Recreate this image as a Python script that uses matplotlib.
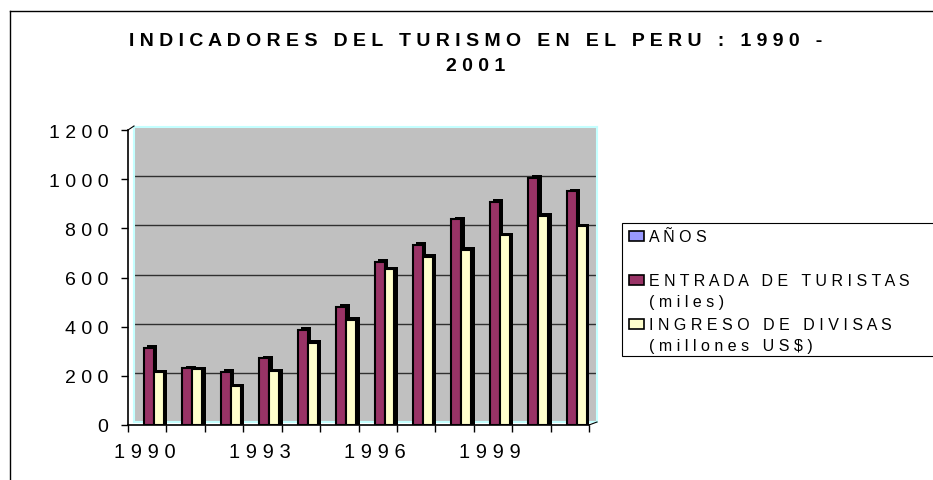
import matplotlib
matplotlib.use('Agg')
import matplotlib.pyplot as plt
import matplotlib.patches as patches
from matplotlib.lines import Line2D

plt.rcParams['font.family'] = 'Liberation Sans'

# data
years = [1990, 1991, 1992, 1993, 1994, 1995, 1996, 1997, 1998, 1999, 2000, 2001]
turistas = [314, 232, 216, 272, 387, 481, 664, 733, 838, 909, 1005, 952]
divisas = [214, 226, 157, 218, 334, 428, 634, 684, 713, 773, 852, 809]
yticks = [0, 200, 400, 600, 800, 1000, 1200]
year_labels = [1990, 1993, 1996, 1999]
title = 'INDICADORES DEL TURISMO EN EL PERU : 1990 -\n2001'
leg_labels = ['AÑOS', 'ENTRADA DE TURISTAS\n(miles)', 'INGRESO DE DIVISAS\n(millones US$)']

c_anos = '#9999FF'
c_tur = '#993366'
c_div = '#FFFFCC'
c_wall = '#C0C0C0'
c_edge = '#C4FFFF'

W, H = 933, 481


def sp(s):
    # the old excel chart draws every label with wide letter spacing
    return '\n'.join(' '.join(line) for line in s.split('\n'))


def fx(px):
    return px / W


def fy(py):
    return (H - py) / H


fig = plt.figure(figsize=(W / 100, H / 100), dpi=100)

# back wall, shifted a bit up/right for the 3d look
ax_bg = fig.add_axes([fx(134), fy(423), fx(461) + 2 / W, 295 / H])
ax_bg.set_facecolor(c_wall)
ax_bg.set_ylim(0, 1200)
ax_bg.set_xlim(0, 12)
for y in yticks[1:-1]:
    ax_bg.axhline(y, color='#303030', lw=1.0)
for s in ax_bg.spines.values():
    s.set_color(c_edge)
    s.set_linewidth(1.5)
ax_bg.set_xticks([])
ax_bg.set_yticks([])

ax = fig.add_axes([fx(128), fy(426), fx(461), 295 / H])
ax.set_facecolor('none')
ax.set_xlim(0, 12)
ax.set_ylim(0, 1200)

x = list(range(len(years)))
bw = 0.26
dx = 0.09
dy = 10
x_tur = [i + 0.417 for i in x]
x_div = [i + 0.677 for i in x]
ax.bar([v + dx for v in x_tur], [h + dy for h in turistas], width=bw, align='edge',
       color='black', zorder=2)
ax.bar(x_tur, turistas, width=bw, align='edge', color=c_tur, edgecolor='black',
       linewidth=1.5, zorder=3)
ax.bar([v + dx for v in x_div], [h + dy for h in divisas], width=bw, align='edge',
       color='black', zorder=4)
ax.bar(x_div, divisas, width=bw, align='edge', color=c_div, edgecolor='black',
       linewidth=1.5, zorder=5)

ax.spines['top'].set_visible(False)
ax.spines['right'].set_visible(False)
ax.spines['left'].set_linewidth(1.2)
ax.spines['bottom'].set_linewidth(1.2)

ax.set_yticks(yticks)
ax.set_yticklabels([sp(str(v)) for v in yticks], fontsize=14)
ax.tick_params(axis='y', length=5, width=1, pad=9)

ax.set_xticks(range(13))
ax.set_xticklabels([])
ax.tick_params(axis='x', which='major', length=5, width=1)
ax.set_xticks([years.index(y) + 0.43 for y in year_labels], minor=True)
ax.set_xticklabels([sp(str(y)) for y in year_labels], minor=True, fontsize=14.5)
ax.tick_params(axis='x', which='minor', length=0, pad=12)

# small 3d corner joints
fig.add_artist(Line2D([fx(128), fx(134)], [fy(131), fy(127)], color='black', lw=0.8))
fig.add_artist(Line2D([fx(589), fx(597)], [fy(426), fy(423)], color='black', lw=0.8))

fig.text(fx(476), fy(54), sp(title), ha='center', va='center', fontsize=14,
         fontweight='bold', multialignment='center', linespacing=1.6)

# chart frame
fig.add_artist(Line2D([fx(10), fx(10)], [0, fy(12)], color='black', lw=1.0))
fig.add_artist(Line2D([fx(10), 1], [fy(12), fy(12)], color='black', lw=1.0))

# legend box
fig.add_artist(patches.Rectangle((fx(622), fy(357)), fx(320), 133 / H,
                                 transform=fig.transFigure, facecolor='white',
                                 edgecolor='black', lw=0.8))
leg_colors = [c_anos, c_tur, c_div]
leg_y = [237, 281, 325]
for lab, col, yy in zip(leg_labels, leg_colors, leg_y):
    fig.add_artist(patches.Rectangle((fx(629), fy(yy + 5)), 15 / W, 10 / H,
                                     transform=fig.transFigure, facecolor=col,
                                     edgecolor='black', lw=1.2))
    nl = lab.count('\n')
    fig.text(fx(649), fy(yy + 10.5 * nl + 1), sp(lab), ha='left', va='center',
             fontsize=11.5, linespacing=1.5)

fig.savefig('out.png', dpi=100)
